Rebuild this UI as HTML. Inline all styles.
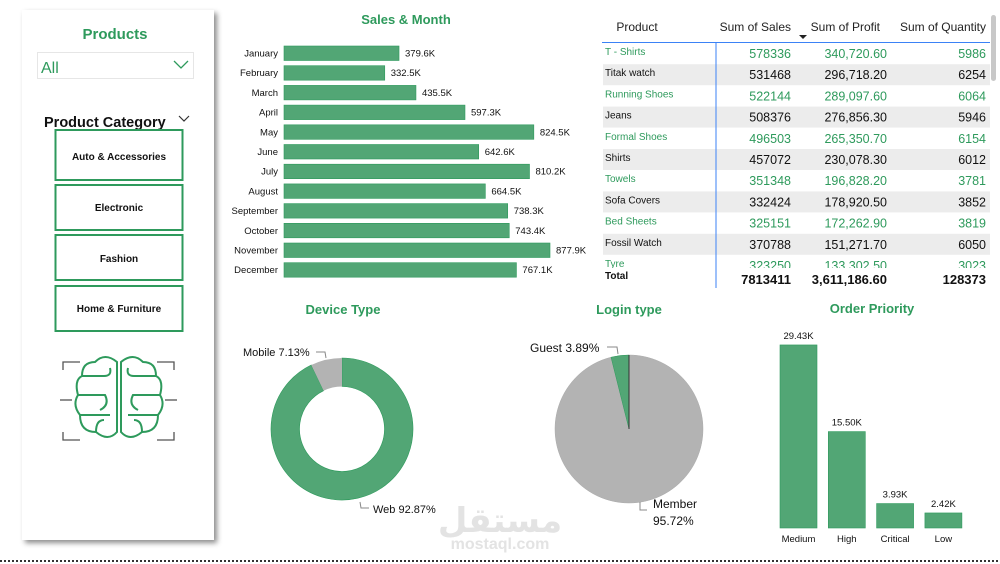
<!DOCTYPE html>
<html><head><meta charset="utf-8"><style>
body{margin:0;width:1000px;height:564px;background:#fff;font-family:"Liberation Sans",sans-serif;position:relative;overflow:hidden}
.abs{position:absolute}
svg{position:absolute;left:0;top:0}
</style></head><body>
<div class="abs" style="left:22px;top:10px;width:192px;height:530px;background:#fff;box-shadow:3px 3px 5px rgba(0,0,0,0.45)"></div>
<svg width="1000" height="564" id="main">
 <text x="115" y="39" text-anchor="middle" font-size="15" font-weight="bold" fill="#2e9a5c">Products</text>
 <g>
  <rect x="37.5" y="52.5" width="156" height="26" fill="#fff" stroke="#e6e6e6"/>
  <text x="41" y="73" font-size="16" fill="#2e9a5c">All</text>
  <polyline points="174,61 181,68 188,61" fill="none" stroke="#2e9a5c" stroke-width="1.3"/>
 </g>
 <text x="44" y="127" font-size="14.5" font-weight="bold" fill="#111">Product Category</text>
 <polyline points="179,116 184,121 189,116" fill="none" stroke="#333" stroke-width="1.2"/>
 <g font-size="10" font-weight="bold" fill="#111" text-anchor="middle">
  <g><rect x="55.5" y="130" width="127" height="50" fill="#fff" stroke="#2e9a5c" stroke-width="2"/><text x="119" y="160">Auto &amp; Accessories</text></g>
  <g><rect x="55.5" y="185" width="127" height="45" fill="#fff" stroke="#2e9a5c" stroke-width="2"/><text x="119" y="211">Electronic</text></g>
  <g><rect x="55.5" y="235" width="127" height="45" fill="#fff" stroke="#2e9a5c" stroke-width="2"/><text x="119" y="262">Fashion</text></g>
  <g><rect x="55.5" y="286" width="127" height="45" fill="#fff" stroke="#2e9a5c" stroke-width="2"/><text x="119" y="312">Home &amp; Furniture</text></g>
 </g>
 <g fill="none" stroke-width="1.3">
  <g stroke="#555"><polyline points="63,370 63,362 80,362"/><polyline points="174,370 174,362 157,362"/><polyline points="63,432 63,440 80,440"/><polyline points="174,432 174,440 157,440"/><line x1="60" y1="400" x2="72" y2="400"/><line x1="165" y1="400" x2="177" y2="400"/></g>
  <g stroke="#2e9a5c" stroke-width="2">
   <path d="M117,362 Q105,352 95,362 Q82,362 82,376 Q74,380 78,395 Q72,405 80,415 Q80,432 96,432 Q108,442 117,432 Z"/>
   <path d="M121,362 Q133,352 143,362 Q156,362 156,376 Q164,380 160,395 Q166,405 158,415 Q158,432 142,432 Q130,442 121,432 Z"/>
   <path d="M82,376 H104 M78,395 H105 Q110,405 100,410 M80,415 H110 M96,432 Q96,420 104,420 M104,376 Q112,376 110,368"/>
   <path d="M156,376 H134 M160,395 H133 Q128,405 138,410 M158,415 H128 M142,432 Q142,420 134,420 M134,376 Q126,376 128,368"/>
  </g>
 </g>
 <text x="406" y="24" text-anchor="middle" font-size="13" font-weight="bold" fill="#2e9a5c">Sales &amp; Month</text>
 <g id="bars" font-size="9.5" fill="#111"></g>
 <g id="table"></g>
 <text x="343" y="314" text-anchor="middle" font-size="13" font-weight="bold" fill="#2e9a5c">Device Type</text>
 <g id="donut"></g>
 <text x="629" y="314" text-anchor="middle" font-size="13" font-weight="bold" fill="#2e9a5c">Login type</text>
 <g id="pie"></g>
 <text x="872" y="313" text-anchor="middle" font-size="13" font-weight="bold" fill="#2e9a5c">Order Priority</text>
 <g id="prio" font-size="9.5" fill="#111" text-anchor="middle"></g>
 <g fill="#e3e3e3" font-weight="bold" text-anchor="middle">
  <text x="500" y="532" font-size="34" font-family="'Liberation Sans','DejaVu Sans',sans-serif">مستقل</text>
  <text x="500" y="549" font-size="16">mostaql.com</text>
 </g>
 <line x1="0" y1="561" x2="1000" y2="561" stroke="#333" stroke-width="2" stroke-dasharray="2,2"/>
</svg>
<script>
const NS="http://www.w3.org/2000/svg";
function mk(p,t,a,txt){const e=document.createElementNS(NS,t);for(const k in a)e.setAttribute(k,a[k]);if(txt!=null)e.textContent=txt;p.appendChild(e);return e;}
const GREEN="#52a675",GSTROKE="#2e9a5c",GRAY="#b3b3b3";
// Sales by month
const months=["January","February","March","April","May","June","July","August","September","October","November","December"];
const monthSales=[379.6,332.5,435.5,597.3,824.5,642.6,810.2,664.5,738.3,743.4,877.9,767.1];
const monthLabels=["379.6K","332.5K","435.5K","597.3K","824.5K","642.6K","810.2K","664.5K","738.3K","743.4K","877.9K","767.1K"];
const bx=v=>284+v*0.303, by=i=>46+i*19.7;
const bg=document.getElementById('bars');
months.forEach((m,i)=>{
 const g=mk(bg,'g',{});
 
 
 mk(g,'rect',{x:284,y:by(i),width:bx(monthSales[i])-284,height:14.5,fill:GREEN,stroke:GSTROKE,'stroke-width':0.6});
 mk(g,'text',{x:278,y:by(i)+10.5,'text-anchor':'end'},m);
 mk(g,'text',{x:bx(monthSales[i])+6,y:by(i)+10.5},monthLabels[i]);
});
// Table
const products=["T - Shirts","Titak watch","Running Shoes","Jeans","Formal Shoes","Shirts","Towels","Sofa Covers","Bed Sheets","Fossil Watch","Tyre"];
const sales=["578336","531468","522144","508376","496503","457072","351348","332424","325151","370788","323250"];
const profit=["340,720.60","296,718.20","289,097.60","276,856.30","265,350.70","230,078.30","196,828.20","178,920.50","172,262.90","151,271.70","133,302.50"];
const qty=["5986","6254","6064","5946","6154","6012","3781","3852","3819","6050","3023"];
const tg=document.getElementById('table');
const hdr=[["Product",637,"middle"],["Sum of Sales",791,"end"],["Sum of Profit",880,"end"],["Sum of Quantity",986,"end"]];
hdr.forEach(h=>{const t=mk(tg,'text',{x:h[1],y:31,'text-anchor':h[2],'font-size':12,fill:'#222'},h[0]);});
mk(tg,'polygon',{points:"799,35 807,35 803,39",fill:'#222'});
const clip=mk(tg,'clipPath',{id:'tc'});mk(clip,'rect',{x:600,y:40,width:392,height:228});
const rows=mk(tg,'g',{'clip-path':'url(#tc)'});
products.forEach((p,i)=>{
 const y=43+i*21.2, green=i%2==0, col=green?GSTROKE:'#111';
 const g=mk(rows,'g',{});
 
 
 if(!green) mk(g,'rect',{x:603,y:y,width:387,height:21,fill:'#ececec'});
 mk(g,'text',{x:605,y:y+12,'font-size':10,fill:col},p);
 mk(g,'text',{x:791,y:y+15,'font-size':12.5,fill:col,'text-anchor':'end'},sales[i]);
 mk(g,'text',{x:887,y:y+15,'font-size':12.5,fill:col,'text-anchor':'end'},profit[i]);
 mk(g,'text',{x:986,y:y+15,'font-size':12.5,fill:col,'text-anchor':'end'},qty[i]);
});
mk(tg,'rect',{x:600,y:268,width:392,height:20,fill:'#fff'});
mk(tg,'text',{x:605,y:279,'font-size':10,'font-weight':'bold',fill:'#111'},"Total");
mk(tg,'text',{x:791,y:284,'font-size':13,'font-weight':'bold',fill:'#111','text-anchor':'end'},"7813411");
mk(tg,'text',{x:887,y:284,'font-size':13,'font-weight':'bold',fill:'#111','text-anchor':'end'},"3,611,186.60");
mk(tg,'text',{x:986,y:284,'font-size':13,'font-weight':'bold',fill:'#111','text-anchor':'end'},"128373");
mk(tg,'line',{x1:602,y1:42.5,x2:990,y2:42.5,stroke:'#3b82f6','stroke-width':1});
mk(tg,'line',{x1:716,y1:42,x2:716,y2:288,stroke:'#3b82f6','stroke-width':1});
mk(tg,'rect',{x:991,y:15,width:5,height:66,rx:2.5,fill:'#c8c8c8'});
// Donut
const devLabels=["Web","Mobile"],devVals=[92.87,7.13];
function arc(cx,cy,r,a0,a1,ri){const p=(a,rr)=>[cx+rr*Math.sin(a),cy-rr*Math.cos(a)];const L=(a1-a0)>Math.PI?1:0;const [x0,y0]=p(a0,r),[x1,y1]=p(a1,r);
 if(!ri)return `M${cx},${cy}L${x0},${y0}A${r},${r} 0 ${L} 1 ${x1},${y1}Z`;
 const [x2,y2]=p(a1,ri),[x3,y3]=p(a0,ri);return `M${x0},${y0}A${r},${r} 0 ${L} 1 ${x1},${y1}L${x2},${y2}A${ri},${ri} 0 ${L} 0 ${x3},${y3}Z`;}
const dg=document.getElementById('donut');
let a=0;const dcol=[GREEN,GRAY];
devVals.forEach((v,i)=>{const a1=a+v/100*2*Math.PI;const s=mk(dg,'path',{d:arc(342,429,71,a,a1,42.5),fill:dcol[i],stroke:i==0?GSTROKE:'none','stroke-width':0.6});
 a=a1;});
mk(dg,'text',{x:243,y:356,'font-size':11,fill:'#111'},"Mobile "+devVals[1]+"%");
mk(dg,'polyline',{points:"316,352 325,352 326,358",fill:'none',stroke:'#888'});
mk(dg,'polyline',{points:"360,502 361,508 369,508",fill:'none',stroke:'#888'});
mk(dg,'text',{x:373,y:513,'font-size':11,fill:'#111'},"Web "+devVals[0]+"%");
// Pie
const loginLabels=["Member","Guest"],loginVals=[95.72,3.89];
const pg=document.getElementById('pie');
a=0;const tot=loginVals[0]+loginVals[1];const pcol=[GRAY,GREEN];
loginVals.forEach((v,i)=>{const a1=a+v/tot*2*Math.PI;const s=mk(pg,'path',{d:arc(629,429,74,a,a1),fill:pcol[i],stroke:i==0?'#aaa':GSTROKE,'stroke-width':0.5});
 a=a1;});
mk(pg,'line',{x1:629,y1:355,x2:629,y2:429,stroke:'#333','stroke-width':1});
mk(pg,'text',{x:530,y:352,'font-size':12,fill:'#111'},"Guest "+loginVals[1]+"%");
mk(pg,'polyline',{points:"607,347 617,347 618,354",fill:'none',stroke:'#888'});
mk(pg,'polyline',{points:"640,502 640,510 647,510",fill:'none',stroke:'#888'});
mk(pg,'text',{x:653,y:508,'font-size':12,fill:'#111'},"Member");
mk(pg,'text',{x:653,y:525,'font-size':12,fill:'#111'},loginVals[0]+"%");
// Order priority
const prioCats=["Medium","High","Critical","Low"],prioVals=[29.43,15.50,3.93,2.42];
const prioLabels=["29.43K","15.50K","3.93K","2.42K"];
const py=v=>528-v*6.22, px=i=>780+i*48.3;
const og=document.getElementById('prio');
prioCats.forEach((c,i)=>{const g=mk(og,'g',{});
 
 
 mk(g,'rect',{x:px(i),y:py(prioVals[i]),width:37,height:528-py(prioVals[i]),fill:GREEN,stroke:GSTROKE,'stroke-width':0.6});
 mk(g,'text',{x:px(i)+18.5,y:py(prioVals[i])-6},prioLabels[i]);
 mk(g,'text',{x:px(i)+18.5,y:542},c);
});
</script>
</body></html>
